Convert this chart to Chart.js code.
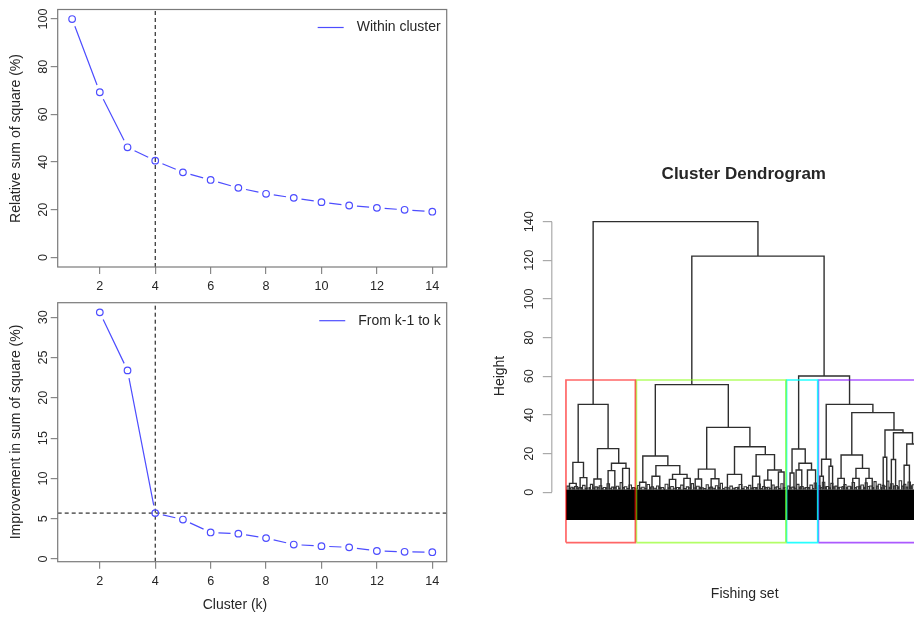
<!DOCTYPE html>
<html>
<head>
<meta charset="utf-8">
<script src="https://cdn.jsdelivr.net/npm/chart.js@4.4.1/dist/chart.umd.min.js"></script>
<style>
html, body { margin: 0; padding: 0; background: #fff; overflow: hidden; width: 914px; height: 619px; }
canvas { position: absolute; }
</style>
</head>
<body>
<canvas id="within" width="460" height="300" style="left:0;top:0"></canvas>
<canvas id="improve" width="460" height="329" style="left:0;top:290px"></canvas>
<canvas id="dendro" width="480" height="470" style="left:470px;top:150px"></canvas>
<script>
// ---- elbow data ----
const clusterK = [1, 2, 3, 4, 5, 6, 7, 8, 9, 10, 11, 12, 13, 14];
const withinSS = [100, 69.3, 46.2, 40.6, 35.7, 32.5, 29.2, 26.7, 25.0, 23.2, 21.8, 20.8, 20.0, 19.2];
const improveK = [2, 3, 4, 5, 6, 7, 8, 9, 10, 11, 12, 13, 14];
const improveSS = [30.6, 23.4, 5.7, 4.9, 3.3, 3.15, 2.6, 1.8, 1.6, 1.45, 1.0, 0.9, 0.85];
const kTicks = [2, 4, 6, 8, 10, 12, 14];
const withinTicks = [0, 20, 40, 60, 80, 100];
const improveTicks = [0, 5, 10, 15, 20, 25, 30];
const chosenK = 4;
const improveCut = 5.7;

// ---- dendrogram data: node = [height, left, right], a number is a leaf position ----
const heightTicks = [0, 20, 40, 60, 80, 100, 120, 140];
const leafTop = 1.5;
const leafHang = -14.3;
const redTree = [45.5,
  [15.5, [4.6, 1.0, 2.9], [7.6, 4.0, 5.9]],
  [22.6, [6.9, 7.9, 9.9], [15.0, [11.2, 11.9, 13.8], [12.4, 16.0, 17.9]]]];
const greenTree = [55.7,
  [18.8, [5.2, 20.8, 22.6], [13.8, [8.3, 24.3, 26.5], [9.3, [6.7, 29.2, 31.0], [7.2, 33.3, 35.1]]]],
  [33.6, [12.0, [6.9, 36.5, 38.3], [7.0, 41.0, 43.2]],
         [23.6, [9.3, 45.6, 49.6], [19.5, [8.3, 52.7, 54.7], [11.5, [6.3, 56.0, 58.0], [10.5, 60.0, 61.6]]]]]];
const cyanTree = [22.4, [10.0, 63.3, 64.4], [15.0, [11.5, 65.0, 66.6], [11.5, 68.2, 70.5]]];
const purpleTree = [45.5,
  [17.1, [8.3, 71.7, 72.7], [13.5, 74.3, 75.3]],
  [41.2,
    [19.3, [7.2, 76.8, 78.6], [12.4, [7.2, 81.0, 82.8], [7.2, 84.7, 86.5]]],
    [32.2, [18.1, 89.6, 90.6], [30.8, [17.0, 91.9, 93.1], [25.0, [14.0, 95.5, 97.0], [20.0, 98.5, 100.5]]]]]];
const fullTree = [140, redTree, [122.2, greenTree, [60.2, cyanTree, purpleTree]]];
// small merges just above the leaves: [left, right, height]
const fringe = [
  [0.3, 0.9, 3.2], [1.4, 1.9, 2.6], [2.4, 3.3, 3.0], [3.6, 4.3, 2.4], [4.7, 5.4, 3.6], [5.9, 6.6, 2.2],
  [6.9, 7.5, 4.1], [8.2, 8.8, 2.8], [9.4, 10.1, 3.4], [10.5, 11.2, 2.5], [11.6, 12.3, 4.4], [12.9, 13.4, 2.7],
  [14.2, 14.9, 3.1], [15.3, 15.9, 5.0], [16.5, 17.2, 2.9], [17.8, 18.5, 3.8], [18.9, 19.4, 2.4],
  [20.2, 20.7, 3.5], [21.4, 22.1, 2.6], [22.9, 23.6, 4.0], [24.0, 24.7, 2.9], [25.6, 26.2, 3.3], [26.9, 27.6, 2.4],
  [28.0, 28.8, 4.2], [29.6, 30.3, 3.0], [31.2, 31.8, 2.5], [32.4, 33.1, 3.7], [34.0, 34.6, 2.8], [35.4, 36.0, 4.5],
  [36.9, 37.6, 3.1], [38.2, 38.8, 2.3], [39.6, 40.2, 3.9], [40.7, 41.4, 2.7], [42.2, 42.9, 3.4], [43.6, 44.2, 4.6],
  [44.9, 45.5, 2.6], [46.3, 47.0, 3.2], [47.8, 48.4, 2.5], [48.9, 49.7, 4.0], [50.3, 51.0, 2.9], [51.6, 52.2, 3.6],
  [53.0, 53.6, 2.4], [54.2, 54.9, 4.3], [55.5, 56.2, 3.0], [56.9, 57.4, 2.6], [58.2, 58.8, 3.8], [59.4, 60.1, 2.8],
  [60.7, 61.3, 4.4], [61.7, 62.2, 2.5],
  [62.6, 63.1, 3.3], [63.8, 64.5, 2.7], [65.2, 65.8, 4.1], [66.3, 67.0, 3.0], [67.6, 68.3, 2.4], [68.9, 69.6, 3.7],
  [70.1, 70.8, 4.8],
  [71.2, 71.8, 3.4], [72.4, 73.1, 5.2], [73.6, 74.2, 3.0], [74.8, 75.4, 4.6], [76.0, 76.6, 3.2], [77.2, 77.9, 2.6],
  [78.5, 79.1, 4.0], [79.6, 80.3, 3.1], [80.8, 81.5, 5.1], [82.1, 82.7, 2.9], [83.3, 84.0, 3.8], [84.5, 85.1, 4.9],
  [85.8, 86.5, 3.3], [87.0, 87.6, 5.5], [88.2, 88.9, 4.2], [89.3, 89.9, 3.6], [90.6, 91.2, 5.8], [91.7, 92.4, 4.4],
  [93.0, 93.6, 3.5], [94.1, 94.8, 6.0], [95.4, 96.0, 4.1], [96.6, 97.3, 5.3], [97.8, 98.4, 3.9], [99.0, 99.6, 4.7]
];
// even smaller merges sitting right on the leaf mass
const fringeLow = [
  [0.95, 1.3, 2.1], [2.0, 2.3, 2.3], [3.35, 3.55, 2.0], [4.4, 4.65, 2.4], [5.5, 5.8, 2.1], [6.65, 6.85, 2.5],
  [7.6, 8.1, 2.2], [8.9, 9.3, 2.6], [10.15, 10.4, 2.0], [11.25, 11.5, 2.3], [12.4, 12.8, 2.1], [13.5, 14.1, 2.6],
  [14.95, 15.2, 2.2], [16.0, 16.4, 2.4], [17.3, 17.7, 2.0], [18.55, 18.8, 2.5], [19.5, 19.8, 2.1],
  [20.8, 21.2, 2.2], [22.3, 22.7, 2.0], [23.7, 23.9, 2.4], [24.8, 25.4, 2.1], [26.3, 26.7, 2.6], [27.7, 27.9, 2.0],
  [28.9, 29.4, 2.3], [30.4, 31.0, 2.1], [31.9, 32.2, 2.5], [33.2, 33.8, 2.0], [34.7, 35.2, 2.3], [36.1, 36.7, 2.2],
  [37.7, 38.0, 2.6], [38.9, 39.4, 2.0], [40.3, 40.6, 2.4], [41.5, 42.0, 2.1], [43.0, 43.4, 2.5], [44.3, 44.7, 2.0],
  [45.6, 46.1, 2.3], [47.1, 47.6, 2.1], [48.5, 48.8, 2.6], [49.8, 50.2, 2.0], [51.1, 51.5, 2.4], [52.3, 52.8, 2.2],
  [53.7, 54.0, 2.5], [55.0, 55.4, 2.0], [56.3, 56.8, 2.4], [57.5, 58.0, 2.1], [58.9, 59.3, 2.6], [60.2, 60.6, 2.0],
  [61.4, 61.6, 2.3],
  [62.3, 62.5, 2.2], [63.2, 63.6, 2.5], [64.6, 65.1, 2.1], [65.9, 66.2, 2.7], [67.1, 67.5, 2.2], [68.4, 68.8, 2.4],
  [69.7, 70.0, 2.0], [70.9, 71.1, 2.6],
  [71.9, 72.3, 2.5], [73.2, 73.5, 2.8], [74.3, 74.7, 2.3], [75.5, 75.9, 2.9], [76.7, 77.1, 2.4], [78.0, 78.4, 3.0],
  [79.2, 79.5, 2.5], [80.4, 80.7, 2.9], [81.6, 82.0, 2.4], [82.8, 83.2, 3.1], [84.1, 84.4, 2.6], [85.2, 85.7, 3.0],
  [86.6, 86.9, 2.5], [87.7, 88.1, 3.2], [89.0, 89.2, 2.7], [90.0, 90.5, 3.1], [91.3, 91.6, 2.6], [92.5, 92.9, 3.3],
  [93.7, 94.0, 2.8], [94.9, 95.3, 3.2], [96.1, 96.5, 2.7], [97.4, 97.7, 3.4], [98.5, 98.9, 2.9], [99.7, 100.3, 3.3]
];
// rect.hclust boxes: [left, right]
const clusterBoxes = [[0, 19.6], [19.9, 62.1], [62.3, 71.1], [71.3, 100.8]];
const boxColors = ['rgba(255,0,0,0.6)', 'rgba(128,255,0,0.6)', 'rgba(0,255,255,0.85)', 'rgba(128,0,255,0.65)'];
const boxTop = 58.1;
const boxBottom = -26;

const FONT = '"Liberation Sans", Arial, Helvetica, sans-serif';
const BLUE = '#4d4dff';

// draws the R-like frame, rotated y labels, captions and legend
const rStyle = {
  id: 'rStyle',
  afterDraw(chart, args, o) {
    const ctx = chart.ctx, a = chart.chartArea, ys = chart.scales.y;
    ctx.save();
    if (o.frame) {
      ctx.strokeStyle = o.frame;
      ctx.lineWidth = 1.2;
      ctx.strokeRect(a.left, a.top, a.right - a.left, a.bottom - a.top);
    }
    if (o.axisLine) {
      const t = ys.ticks;
      ctx.strokeStyle = o.axisLine;
      ctx.lineWidth = 1.2;
      ctx.beginPath();
      ctx.moveTo(a.left, ys.getPixelForValue(t[0].value));
      ctx.lineTo(a.left, ys.getPixelForValue(t[t.length - 1].value));
      ctx.stroke();
    }
    ctx.fillStyle = '#262626';
    ctx.font = '12.6px ' + FONT;
    ctx.textAlign = 'center';
    ctx.textBaseline = 'alphabetic';
    ys.ticks.forEach(t => {
      ctx.save();
      ctx.translate(a.left - o.labelGap, ys.getPixelForValue(t.value));
      ctx.rotate(-Math.PI / 2);
      ctx.fillText(String(t.value), 0, 0);
      ctx.restore();
    });
    ctx.textBaseline = 'middle';
    (o.texts || []).forEach(t => {
      ctx.save();
      ctx.font = t.font || ('14px ' + FONT);
      ctx.translate(t.x, t.y);
      if (t.rotate) ctx.rotate(-Math.PI / 2);
      ctx.fillText(t.text, 0, 0);
      ctx.restore();
    });
    if (o.legend) {
      ctx.font = '14px ' + FONT;
      ctx.textAlign = 'right';
      const tx = a.right - 6, ty = a.top + 18;
      const w = ctx.measureText(o.legend).width;
      ctx.fillText(o.legend, tx, ty);
      ctx.strokeStyle = BLUE;
      ctx.lineWidth = 1.2;
      ctx.beginPath();
      ctx.moveTo(tx - w - 39, ty);
      ctx.lineTo(tx - w - 13, ty);
      ctx.stroke();
    }
    ctx.restore();
  }
};

// joins the points of dataset 0 with a line that stops short of each point (R type = "b")
const brokenLine = {
  id: 'brokenLine',
  beforeDatasetsDraw(chart, args, o) {
    const xs = chart.scales.x, ys = chart.scales.y, ctx = chart.ctx;
    const px = chart.data.datasets[0].data.map(p => [xs.getPixelForValue(p.x), ys.getPixelForValue(p.y)]);
    ctx.save();
    ctx.strokeStyle = o.color;
    ctx.lineWidth = o.width;
    ctx.beginPath();
    for (let i = 1; i < px.length; i++) {
      const [x0, y0] = px[i - 1], [x1, y1] = px[i];
      const d = Math.hypot(x1 - x0, y1 - y0);
      if (d <= 2 * o.gap) continue;
      const ux = (x1 - x0) / d, uy = (y1 - y0) / d;
      ctx.moveTo(x0 + ux * o.gap, y0 + uy * o.gap);
      ctx.lineTo(x1 - ux * o.gap, y1 - uy * o.gap);
    }
    ctx.stroke();
    ctx.restore();
  }
};

function elbowChart(id, xs, ys, yTicks, yMin, yMax, refLines, o) {
  const pts = xs.map((x, i) => ({ x: x, y: ys[i] }));
  const refs = refLines.map(d => ({
    data: d, showLine: true, borderColor: '#000', borderWidth: 1, borderDash: [4, 3], pointRadius: 0, order: 1
  }));
  return new Chart(document.getElementById(id), {
    type: 'scatter',
    data: {
      datasets: [
        { data: pts, showLine: false, pointRadius: 3.3, pointBorderWidth: 1.2, pointBorderColor: BLUE,
          pointBackgroundColor: 'rgba(0,0,0,0)', order: 0 },
        ...refs
      ]
    },
    options: {
      responsive: false,
      animation: false,
      events: [],
      layout: { padding: { top: o.top, right: 13.3, left: 0, bottom: 0 } },
      plugins: {
        legend: { display: false },
        tooltip: { enabled: false },
        brokenLine: { color: BLUE, width: 1.2, gap: 7.8 },
        rStyle: { frame: '#7a7a7a', labelGap: 11, legend: o.legend, texts: o.texts }
      },
      scales: {
        x: {
          type: 'linear', min: 0.48, max: 14.52,
          afterBuildTicks: s => { s.ticks = kTicks.map(v => ({ value: v })); },
          afterFit: s => { s.height = o.xHeight; },
          grid: { drawOnChartArea: false, tickLength: 7, color: '#888', lineWidth: 1.2 },
          border: { display: false },
          ticks: { font: { size: 12.6, family: FONT }, color: '#262626', padding: 5, maxRotation: 0, autoSkip: false }
        },
        y: {
          type: 'linear', min: yMin, max: yMax,
          afterBuildTicks: s => { s.ticks = yTicks.map(v => ({ value: v })); },
          afterFit: s => { s.width = 57.7; },
          grid: { drawOnChartArea: false, tickLength: 7, color: '#888', lineWidth: 1.2 },
          border: { display: false },
          ticks: { display: false }
        }
      }
    },
    plugins: [brokenLine, rStyle]
  });
}

elbowChart('within', clusterK, withinSS, withinTicks, -4, 104,
  [[{ x: chosenK, y: -4 }, { x: chosenK, y: 104 }]],
  { top: 9.5, xHeight: 33, legend: 'Within cluster',
    texts: [{ text: 'Relative sum of square (%)', x: 16, y: 138.5, rotate: true }] });

elbowChart('improve', improveK, improveSS, improveTicks, -0.33, 31.8,
  [[{ x: chosenK, y: -0.33 }, { x: chosenK, y: 31.8 }], [{ x: 0.48, y: improveCut }, { x: 14.52, y: improveCut }]],
  { top: 12.7, xHeight: 57.3, legend: 'From k-1 to k',
    texts: [{ text: 'Improvement in sum of square (%)', x: 16, y: 142, rotate: true },
            { text: 'Cluster (k)', x: 235, y: 315 }] });

// ---- dendrogram ----
function nodeX(n) { return typeof n === 'number' ? n : (nodeX(n[1]) + nodeX(n[2])) / 2; }
function nodeH(n) { return typeof n === 'number' ? leafTop : n[0]; }
function collectLinks(n, out) {
  if (typeof n === 'number') return out;
  const xl = nodeX(n[1]), xr = nodeX(n[2]);
  out.push([{ x: xl, y: nodeH(n[1]) }, { x: xl, y: n[0] }, { x: xr, y: n[0] }, { x: xr, y: nodeH(n[2]) }]);
  collectLinks(n[1], out);
  collectLinks(n[2], out);
  return out;
}
const linkSets = collectLinks(fullTree, []).map(d => ({
  data: d, showLine: true, borderColor: '#2e2e2e', borderWidth: 1.4, pointRadius: 0, order: 1
}));
const fringeSets = fringe.concat(fringeLow).map(f => ({
  data: [{ x: f[0], y: leafTop }, { x: f[0], y: f[2] }, { x: f[1], y: f[2] }, { x: f[1], y: leafTop }],
  showLine: true, borderColor: '#333', borderWidth: 1.1, pointRadius: 0, order: 2
}));
const boxSets = clusterBoxes.map((b, i) => ({
  data: [{ x: b[0], y: boxBottom }, { x: b[0], y: boxTop }, { x: b[1], y: boxTop }, { x: b[1], y: boxBottom }, { x: b[0], y: boxBottom }],
  showLine: true, borderColor: boxColors[i], borderWidth: 1.7, pointRadius: 0, order: 0
}));
const leafMass = {
  data: [{ x: 0, y: leafTop }, { x: 100.6, y: leafTop }],
  showLine: true, borderWidth: 0, borderColor: '#000', backgroundColor: '#000',
  fill: { value: leafHang }, pointRadius: 0, order: 3
};

new Chart(document.getElementById('dendro'), {
  type: 'scatter',
  data: { datasets: [...boxSets, ...linkSets, ...fringeSets, leafMass] },
  options: {
    responsive: false,
    animation: false,
    events: [],
    layout: { padding: { top: 62, right: 15.8, bottom: 69.7, left: 0 } },
    plugins: {
      legend: { display: false },
      tooltip: { enabled: false },
      rStyle: {
        axisLine: '#aaa', labelGap: 19.1,
        texts: [
          { text: 'Cluster Dendrogram', x: 273.8, y: 24.5, font: 'bold 17px ' + FONT },
          { text: 'Height', x: 30.5, y: 226, rotate: true },
          { text: 'Fishing set', x: 274.7, y: 444.5 }
        ]
      }
    },
    scales: {
      x: { type: 'linear', display: false, min: -4, max: 104 },
      y: {
        type: 'linear', min: -30, max: 145,
        afterBuildTicks: s => { s.ticks = heightTicks.map(v => ({ value: v })); },
        afterFit: s => { s.width = 81.8; },
        grid: { drawOnChartArea: false, tickLength: 9, color: '#aaa', lineWidth: 1.2 },
        border: { display: false },
        ticks: { display: false }
      }
    }
  },
  plugins: [rStyle]
});
</script>
</body>
</html>
